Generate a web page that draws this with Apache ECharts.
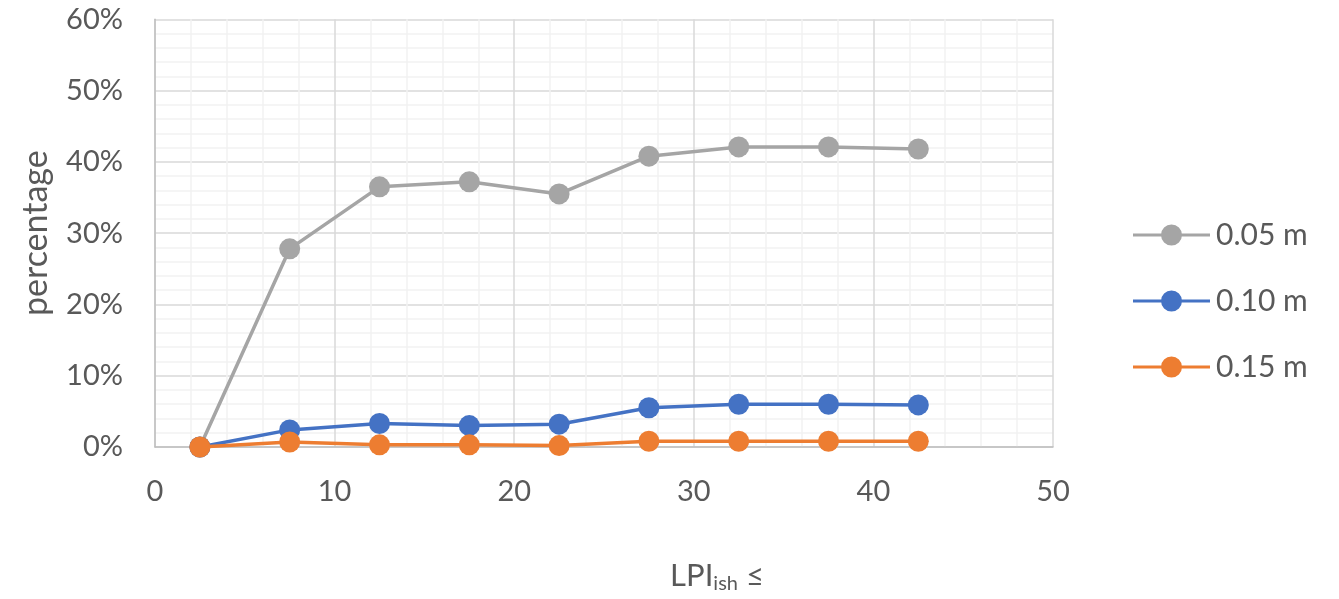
<!DOCTYPE html>
<html>
<head>
<meta charset="utf-8">
<script src="https://cdn.jsdelivr.net/npm/echarts@6/dist/echarts.min.js"></script>
<style>html,body{margin:0;padding:0;background:#fff}#c{width:1339px;height:599px}</style>
</head>
<body>
<div id="c"></div>
<script>
const xValues = [2.5, 7.5, 12.5, 17.5, 22.5, 27.5, 32.5, 37.5, 42.5];
const seriesNames = ['0.05 m', '0.10 m', '0.15 m'];
const s005 = [0, 27.8, 36.5, 37.2, 35.5, 40.8, 42.1, 42.1, 41.8];
const s010 = [0, 2.4, 3.3, 3.0, 3.2, 5.5, 6.0, 6.0, 5.9];
const s015 = [0, 0.7, 0.3, 0.3, 0.2, 0.8, 0.8, 0.8, 0.8];
const colors = ['#a5a5a5', '#4472c4', '#ed7d31'];
const allSeries = [s005, s010, s015];

const FONT = 'Lato';
const TXT = '#595959';
const legendIcon = 'path://M0,9 H30 V12 H0 Z M47,9 H77 V12 H47 Z M28,10.5 A10.5,10.5 0 1,1 49,10.5 A10.5,10.5 0 1,1 28,10.5 Z';

const chart = echarts.init(document.getElementById('c'));
chart.setOption({
  animation: false,
  textStyle: { fontFamily: FONT },
  grid: { left: 155, top: 19.3, right: 286, bottom: 152, containLabel: false },
  xAxis: {
    type: 'value', min: 0, max: 50, interval: 10,
    name: '{a|LPI}{b|ish}{a| ≤}',
    nameLocation: 'middle', nameGap: 111,
    nameTextStyle: {
      padding: [0, 0, 0, 226],
      rich: {
        a: { fontSize: 31, color: TXT, fontFamily: FONT, lineHeight: 36, verticalAlign: 'middle' },
        b: { fontSize: 20, color: TXT, fontFamily: FONT, lineHeight: 20, verticalAlign: 'bottom', padding: [21, 0, 0, 0] }
      }
    },
    axisLine: { show: true, lineStyle: { color: '#bfbfbf', width: 1.5 } },
    axisTick: { show: false },
    axisLabel: { fontSize: 29, color: TXT, margin: 30, fontFamily: FONT },
    splitLine: { show: true, lineStyle: { color: '#d9d9d9', width: 1.5 } },
    minorTick: { show: false, splitNumber: 5 },
    minorSplitLine: { show: true, lineStyle: { color: '#f2f2f2', width: 1.5 } }
  },
  yAxis: {
    type: 'value', min: 0, max: 60, interval: 10,
    name: 'percentage', nameLocation: 'middle', nameGap: 102,
    nameTextStyle: { fontSize: 34, color: TXT, fontFamily: FONT },
    axisLine: { show: true, lineStyle: { color: '#bfbfbf', width: 1.5 } },
    axisTick: { show: false },
    axisLabel: { fontSize: 29, color: TXT, margin: 32, formatter: '{value}%', fontFamily: FONT },
    splitLine: { show: true, lineStyle: { color: '#d9d9d9', width: 1.5 } },
    minorTick: { show: false, splitNumber: 5 },
    minorSplitLine: { show: true, lineStyle: { color: '#f2f2f2', width: 1.5 } }
  },
  legend: {
    orient: 'vertical', left: 1128, top: 215,
    itemWidth: 79, itemHeight: 21, itemGap: 36,
    textStyle: { fontSize: 30, lineHeight: 30, color: TXT, fontFamily: FONT, padding: [0, 0, 0, 0] },
    data: seriesNames.map(n => ({ name: n, icon: legendIcon }))
  },
  series: allSeries.map((d, i) => ({
    name: seriesNames[i], type: 'line',
    data: xValues.map((x, j) => [x, d[j]]),
    symbol: 'circle', symbolSize: 21,
    lineStyle: { width: 3.5, color: colors[i] },
    itemStyle: { color: colors[i] },
    z: 3 + i
  }))
});
</script>
</body>
</html>
